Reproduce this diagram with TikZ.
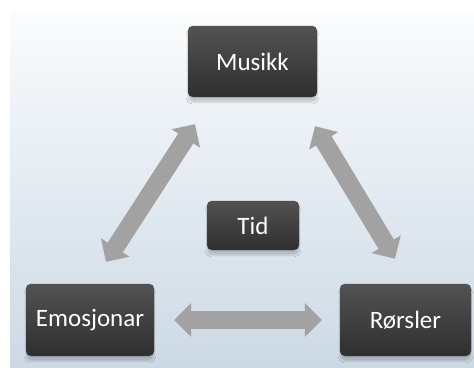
\documentclass[tikz,border=0pt]{standalone}
\usepackage{fontspec}
\setmainfont{Carlito}
\usetikzlibrary{arrows.meta,shadows.blur,calc}
\definecolor{boxtop}{HTML}{525252}
\definecolor{boxbot}{HTML}{2F2F2F}
\definecolor{bgtop}{HTML}{FBFCFD}
\definecolor{bgbot}{HTML}{CCD9E5}
\definecolor{arrowcol}{HTML}{A2A2A2}
\tikzset{
  box/.style={rectangle, rounded corners=5pt, draw=black!70, line width=0.4pt,
    top color=boxtop, bottom color=boxbot, text=white,
    font=\fontsize{25}{30}\selectfont, inner sep=0pt,
    blur shadow={shadow xshift=0pt, shadow yshift=-5pt, shadow opacity=18, shadow blur steps=6}},
  link/.style={line width=18pt, draw=arrowcol,
    {Triangle[length=17pt,width=33pt]}-{Triangle[length=17pt,width=33pt]}}
}
\begin{document}
\begin{tikzpicture}[x=1pt,y=-1pt]
\useasboundingbox (0,0) rectangle (474,367);
\fill[top color=bgtop, bottom color=bgbot] (10,10) rectangle (474,367);
\node[box, minimum width=129pt, minimum height=71pt] (mus) at (252.5,61.5) {Musikk};
\node[box, minimum width=92pt, minimum height=49pt] (tid) at (253,225.5) {Tid};
\node[box, minimum width=128pt, minimum height=72pt] (emo) at (90,320) {Emosjonar};
\node[box, minimum width=131pt, minimum height=72pt] (ror) at (405.5,320) {Rørsler};
\draw[link] ([shift={(16,-22)}]emo.north) -- ([shift={(-57.5,27)}]mus.south);
\draw[link] ([shift={(62.5,29)}]mus.south) -- ([shift={(-10.5,-25)}]ror.north);
\draw[link] ([shift={(20,0)}]emo.east) -- ([shift={(-18,0)}]ror.west);
\end{tikzpicture}
\end{document}
